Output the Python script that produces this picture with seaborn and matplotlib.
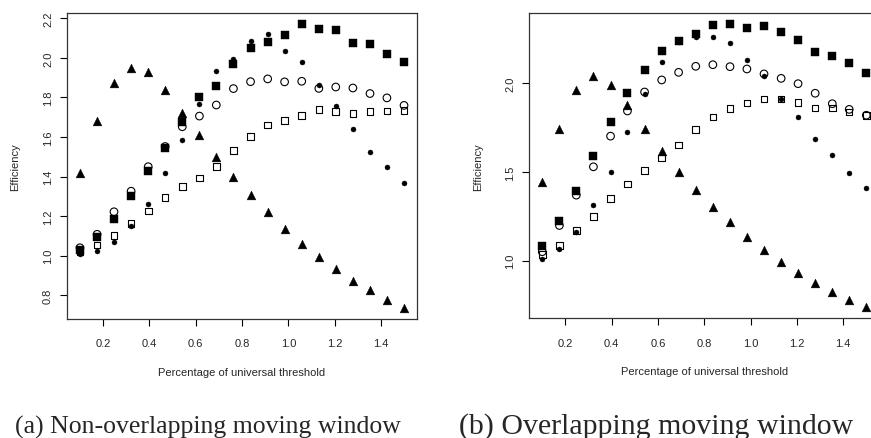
import matplotlib
matplotlib.use("Agg")
import matplotlib.pyplot as plt
import seaborn as sns

# percentage of universal threshold (20 grid points)
threshold = [0.100, 0.174, 0.247, 0.321, 0.395, 0.468, 0.542, 0.616, 0.689, 0.763,
             0.837, 0.911, 0.984, 1.058, 1.132, 1.205, 1.279, 1.353, 1.426, 1.500]

# (a) non-overlapping moving window
tri_a = [1.417, 1.683, 1.872, 1.950, 1.928, 1.840, 1.723, 1.608, 1.501, 1.400,
         1.305, 1.219, 1.136, 1.060, 0.992, 0.931, 0.874, 0.825, 0.778, 0.737]
sq_a = [1.030, 1.096, 1.185, 1.304, 1.430, 1.547, 1.676, 1.800, 1.860, 1.968,
        2.048, 2.083, 2.115, 2.170, 2.144, 2.141, 2.075, 2.070, 2.019, 1.977]
dot_a = [1.010, 1.023, 1.067, 1.151, 1.261, 1.420, 1.586, 1.767, 1.936, 1.995,
         2.087, 2.119, 2.036, 1.978, 1.865, 1.759, 1.643, 1.524, 1.446, 1.370]
ocirc_a = [1.040, 1.108, 1.222, 1.326, 1.450, 1.552, 1.652, 1.706, 1.762, 1.845,
           1.880, 1.894, 1.879, 1.882, 1.846, 1.853, 1.848, 1.820, 1.798, 1.760]
osq_a = [1.020, 1.053, 1.101, 1.163, 1.226, 1.293, 1.349, 1.392, 1.450, 1.532,
         1.603, 1.661, 1.684, 1.709, 1.740, 1.728, 1.720, 1.728, 1.732, 1.733]

# (b) overlapping moving window
tri_b = [1.442, 1.744, 1.962, 2.040, 1.990, 1.876, 1.744, 1.618, 1.501, 1.397,
         1.303, 1.215, 1.132, 1.058, 0.990, 0.930, 0.876, 0.825, 0.780, 0.738]
sq_b = [1.081, 1.222, 1.395, 1.589, 1.781, 1.945, 2.075, 2.183, 2.239, 2.279,
        2.329, 2.333, 2.311, 2.324, 2.290, 2.243, 2.177, 2.154, 2.115, 2.060]
dot_b = [1.011, 1.066, 1.160, 1.316, 1.501, 1.727, 1.942, 2.123, 2.235, 2.262,
         2.264, 2.226, 2.134, 2.040, 1.911, 1.812, 1.684, 1.595, 1.492, 1.407]
ocirc_b = [1.050, 1.198, 1.369, 1.529, 1.702, 1.844, 1.951, 2.019, 2.062, 2.096,
           2.105, 2.094, 2.081, 2.053, 2.028, 1.998, 1.944, 1.885, 1.853, 1.820]
osq_b = [1.034, 1.086, 1.170, 1.250, 1.349, 1.433, 1.507, 1.580, 1.651, 1.740,
         1.810, 1.857, 1.889, 1.911, 1.911, 1.891, 1.860, 1.860, 1.838, 1.819]

x_ticks = [0.2, 0.4, 0.6, 0.8, 1.0, 1.2, 1.4]
y_ticks_a = [0.8, 1.0, 1.2, 1.4, 1.6, 1.8, 2.0, 2.2]
y_ticks_b = [1.0, 1.5, 2.0]
captions = ["(a) Non-overlapping moving window", "(b) Overlapping moving window"]

sns.set_style("white")
plt.rcParams["font.family"] = ["Liberation Sans", "DejaVu Sans"]

# marker style per series: (marker, size, filled)
STYLES = [
    ("^", 40, True),
    ("s", 30, True),
    ("o", 13, True),
    ("o", 30, False),
    ("s", 22, False),
]


def r_limits(values):
    lo, hi = min(values), max(values)
    pad = 0.04 * (hi - lo)
    return lo - pad, hi + pad


def panel(ax, series, y_ticks):
    for ys, (marker, size, filled) in zip(series, STYLES):
        if filled:
            sns.scatterplot(x=threshold, y=ys, ax=ax, marker=marker, s=size,
                            color="black", edgecolor="black", linewidth=0.3)
        else:
            sns.scatterplot(x=threshold, y=ys, ax=ax, marker=marker, s=size,
                            color="black", facecolors="none",
                            edgecolor="black", linewidth=0.8)
    all_y = [v for ys in series for v in ys]
    ax.set_xlim(*r_limits(threshold))
    ax.set_ylim(*r_limits(all_y))
    ax.set_xticks(x_ticks)
    ax.set_xticklabels([f"{t:.1f}" for t in x_ticks])
    ax.set_yticks(y_ticks)
    ax.set_yticklabels([f"{t:.1f}" for t in y_ticks], rotation=90, va="center")
    ax.tick_params(axis="both", direction="out", length=5, width=0.8,
                   labelsize=8, color="black", bottom=True, left=True)
    ax.tick_params(axis="x", pad=9)
    ax.tick_params(axis="y", pad=5)
    for sp in ax.spines.values():
        sp.set_visible(True)
        sp.set_color("#333333")
        sp.set_linewidth(0.9)
    ax.set_xlabel("Percentage of universal threshold", fontsize=8, va="center")
    ax.set_ylabel("Efficiency", fontsize=8, va="center")
    ax.xaxis.set_label_coords(0.5, -0.172)


fig = plt.figure(figsize=(8.71, 4.39), dpi=100)
W, H = 871, 439

ax1 = fig.add_axes([67 / W, 1 - 320 / H, 350 / W, 306 / H])
panel(ax1, [tri_a, sq_a, dot_a, ocirc_a, osq_a], y_ticks_a)
ax1.yaxis.set_label_coords(-0.149, 0.5)

ax2 = fig.add_axes([529.3 / W, 1 - 319.3 / H, 350 / W, 305.3 / H])
panel(ax2, [tri_b, sq_b, dot_b, ocirc_b, osq_b], y_ticks_b)
ax2.yaxis.set_label_coords(-0.147, 0.5)

fig.text(208 / W, 1 - 427 / H, captions[0], ha="center", va="center",
         fontsize=18.5, family=["Liberation Serif", "DejaVu Serif"])
fig.text(656 / W, 1 - 427 / H, captions[1], ha="center", va="center",
         fontsize=21.5, family=["Liberation Serif", "DejaVu Serif"])

fig.savefig("out.png", dpi=100, facecolor="white")
